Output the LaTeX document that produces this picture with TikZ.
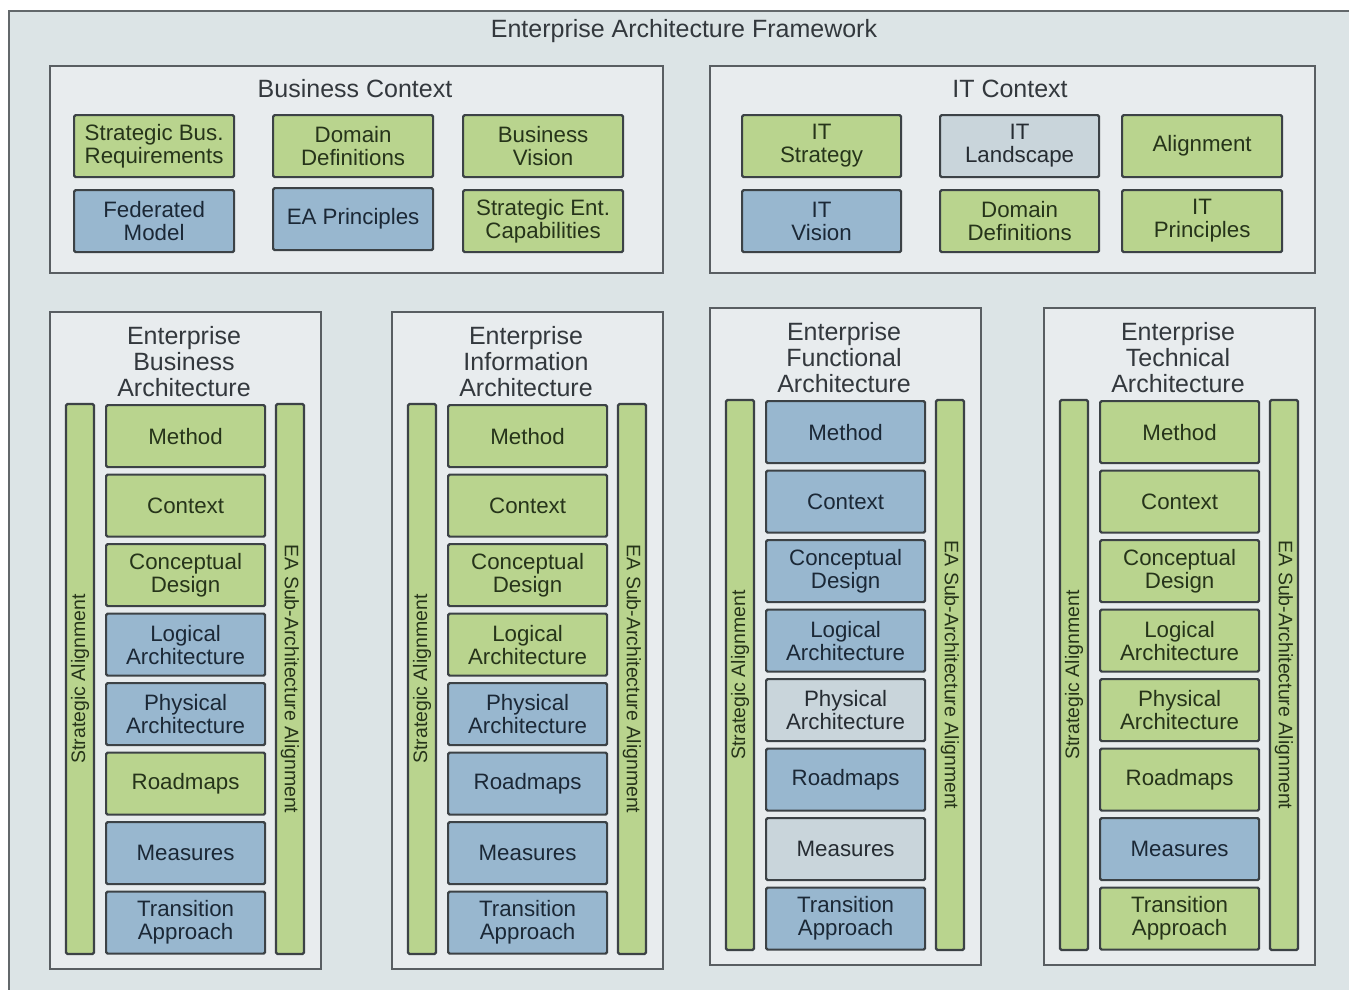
\documentclass[tikz,border=0pt]{standalone}
\usepackage{fontspec}
\setmainfont{Liberation Sans}
\definecolor{bg}{HTML}{DCE4E6}
\definecolor{panelc}{HTML}{E8ECEE}
\definecolor{cg}{HTML}{B9D48E}
\definecolor{cb}{HTML}{98B7CF}
\definecolor{cy}{HTML}{C9D5DB}
\definecolor{cgtxt}{HTML}{26341A}
\definecolor{cbtxt}{HTML}{1B2836}
\definecolor{cytxt}{HTML}{262C32}
\definecolor{edge}{HTML}{3C4246}
\definecolor{ttl}{HTML}{33383D}
\tikzset{
  item/.style={draw=edge, line width=2.2pt, rounded corners=1.5pt, align=center,
    inner sep=0pt, font=\fontsize{22.3}{23}\selectfont, anchor=north west},
  panelbox/.style={draw=edge!85, line width=2pt, fill=panelc, inner sep=0pt, anchor=north west},
  ttlnode/.style={text=ttl, align=center, font=\fontsize{25}{26}\selectfont},
  barbox/.style={draw=edge, line width=2.2pt, rounded corners=1.5pt, fill=cg, text=cgtxt,
    inner sep=0pt, font=\fontsize{19.5}{21}\selectfont, minimum width=550pt, minimum height=28pt},
}
% #1 name, #2 x, #3 y, #4 title, #5 list
\newcommand\eacol[5]{%
  \begin{scope}[shift={(#2,#3)}]
    \node[panelbox, minimum width=271pt, minimum height=657pt] (#1) at (0,0) {};
    \node[ttlnode] (#1-t) at (135,51) {#4};
    \node[barbox, rotate=90] (#1-sa) at (31,368) {Strategic Alignment};
    \node[barbox, rotate=-90] (#1-ea) at (241,368) {EA Sub-Architecture Alignment};
    \foreach \t/\c [count=\i from 0] in {#5}{
      \node[item, fill=\c, text=\c txt, minimum width=159pt, minimum height=62pt]
        (#1-\i) at (56,{93+\i*69.5}) {\t};
    }
  \end{scope}}
\begin{document}
\begin{tikzpicture}[x=1pt,y=-1pt]
\useasboundingbox (0,0) rectangle (1349,989);
\clip (0,0) rectangle (1349,989);
\fill[white] (0,0) rectangle (1349,989);
\node[draw=edge!80, line width=2pt, fill=bg, inner sep=0pt, anchor=north west,
  minimum width=1400pt, minimum height=1040pt] (frame) at (8,10) {};
\node[ttlnode] (ftitle) at (684,31) {Enterprise Architecture Framework};

% Business Context
\node[panelbox, minimum width=613pt, minimum height=207pt] (bc) at (49,65) {};
\node[ttlnode] (bct) at (355,89) {Business Context};
\node[item, fill=cg, text=cgtxt, minimum width=160pt, minimum height=62pt] (sbr) at (73,114) {Strategic Bus.\\Requirements};
\node[item, fill=cg, text=cgtxt, minimum width=160pt, minimum height=62pt] (dd) at (272,114) {Domain\\Definitions};
\node[item, fill=cg, text=cgtxt, minimum width=160pt, minimum height=62pt] (bv) at (462,114) {Business\\Vision};
\node[item, fill=cb, text=cbtxt, minimum width=160pt, minimum height=62pt] (fm) at (73,189) {Federated\\Model};
\node[item, fill=cb, text=cbtxt, minimum width=160pt, minimum height=62pt] (eap) at (272,187) {EA Principles};
\node[item, fill=cg, text=cgtxt, minimum width=160pt, minimum height=62pt] (sec) at (462,189) {Strategic Ent.\\Capabilities};

% IT Context
\node[panelbox, minimum width=605pt, minimum height=207pt] (itc) at (709,65) {};
\node[ttlnode] (itct) at (1010,89) {IT Context};
\node[item, fill=cg, text=cgtxt, minimum width=159pt, minimum height=62pt] (its) at (741,114) {IT\\Strategy};
\node[item, fill=cy, text=cytxt, minimum width=159pt, minimum height=62pt] (itl) at (939,114) {IT\\Landscape};
\node[item, fill=cg, text=cgtxt, minimum width=160pt, minimum height=62pt] (al) at (1121,114) {Alignment};
\node[item, fill=cb, text=cbtxt, minimum width=159pt, minimum height=62pt] (itv) at (741,189) {IT\\Vision};
\node[item, fill=cg, text=cgtxt, minimum width=159pt, minimum height=62pt] (idd) at (939,189) {Domain\\Definitions};
\node[item, fill=cg, text=cgtxt, minimum width=160pt, minimum height=62pt] (itp) at (1121,189) {IT\\Principles};

\eacol{eba}{49}{311}{Enterprise\\Business\\Architecture}{Method/cg,Context/cg,{Conceptual\\Design}/cg,{Logical\\Architecture}/cb,{Physical\\Architecture}/cb,Roadmaps/cg,Measures/cb,{Transition\\Approach}/cb}
\eacol{eia}{391}{311}{Enterprise\\Information\\Architecture}{Method/cg,Context/cg,{Conceptual\\Design}/cg,{Logical\\Architecture}/cg,{Physical\\Architecture}/cb,Roadmaps/cb,Measures/cb,{Transition\\Approach}/cb}
\eacol{efa}{709}{307}{Enterprise\\Functional\\Architecture}{Method/cb,Context/cb,{Conceptual\\Design}/cb,{Logical\\Architecture}/cb,{Physical\\Architecture}/cy,Roadmaps/cb,Measures/cy,{Transition\\Approach}/cb}
\eacol{eta}{1043}{307}{Enterprise\\Technical\\Architecture}{Method/cg,Context/cg,{Conceptual\\Design}/cg,{Logical\\Architecture}/cg,{Physical\\Architecture}/cg,Roadmaps/cg,Measures/cb,{Transition\\Approach}/cg}
\end{tikzpicture}
\end{document}
